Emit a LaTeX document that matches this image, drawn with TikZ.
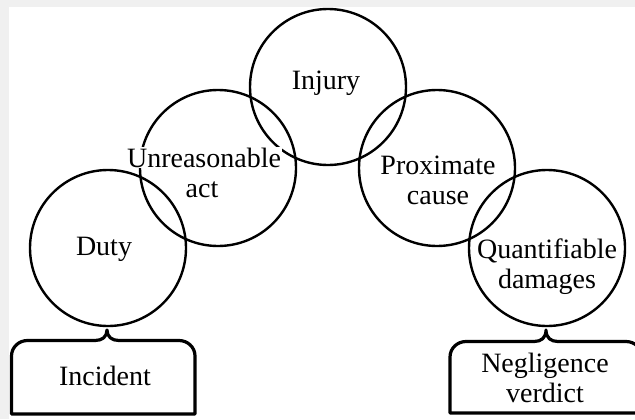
\documentclass[tikz,border=0pt]{standalone}
\usepackage{fontspec}
\setmainfont{Liberation Serif}
\begin{document}
\begin{tikzpicture}[
    x=0.5pt, y=0.5pt,
    ring/.style={draw, circle, line width=1.2pt, minimum size=78pt,
                 inner sep=0pt},
    lbl/.style={font=\fontsize{14}{15}\selectfont, align=center,
                anchor=base, inner sep=0.5pt},
    knock/.style={lbl, fill=white},
    bracebox/.style={draw, line width=1.6pt, line join=round}
  ]
  % Frame
  \fill[gray!12] (0,0) rectangle (635,419);
  \clip (0,0) rectangle (635,419);
  \fill[white] (9,0) rectangle (635,412);

  % Circles
  \foreach \n/\x/\y in {duty/108/171, unreas/218/251, injury/328/332,
                        proxcause/437/251, damages/547/171} {
    \node[ring] (\n) at (\x,\y) {};
  }

  % Labels (multi-line ones sit on their last baseline)
  \node[lbl] (duty-t) at (104,164) {Duty};
  \node[knock] (unreas-t) at (204,252) {Unreasonable};
  \node[lbl] (act-t) at (202,222) {act};
  \node[lbl] (injury-t) at (326,330) {Injury};
  \node[lbl] (proxcause-t) at (438,215) {Proximate\\cause};
  \node[lbl] (damages-t) at (547,131) {Quantifiable\\damages};

  % Outcome boxes
  \draw[bracebox] (11.5,5) -- (11.5,63) to[out=90, in=180] (27.5,78.5)
    -- (95,78.5) .. controls (102,78.5) and (107,82) .. (107,89)
    .. controls (107,82) and (112,78.5) .. (119,78.5)
    -- (179,78.5) to[out=0, in=90] (195,63) -- (195,5) -- cycle;
  \node[lbl] (incident) at (105,34) {Incident};

  \draw[bracebox] (450,6) -- (450,62) to[out=90, in=180] (466,77.5)
    -- (534,77.5) .. controls (541,77.5) and (546,81) .. (546,89)
    .. controls (546,81) and (551,77.5) .. (558,77.5)
    -- (626,77.5) to[out=0, in=90] (642,62) -- (642,6) -- cycle;
  \node[lbl] (verdict) at (545,17) {Negligence\\verdict};
\end{tikzpicture}
\end{document}
